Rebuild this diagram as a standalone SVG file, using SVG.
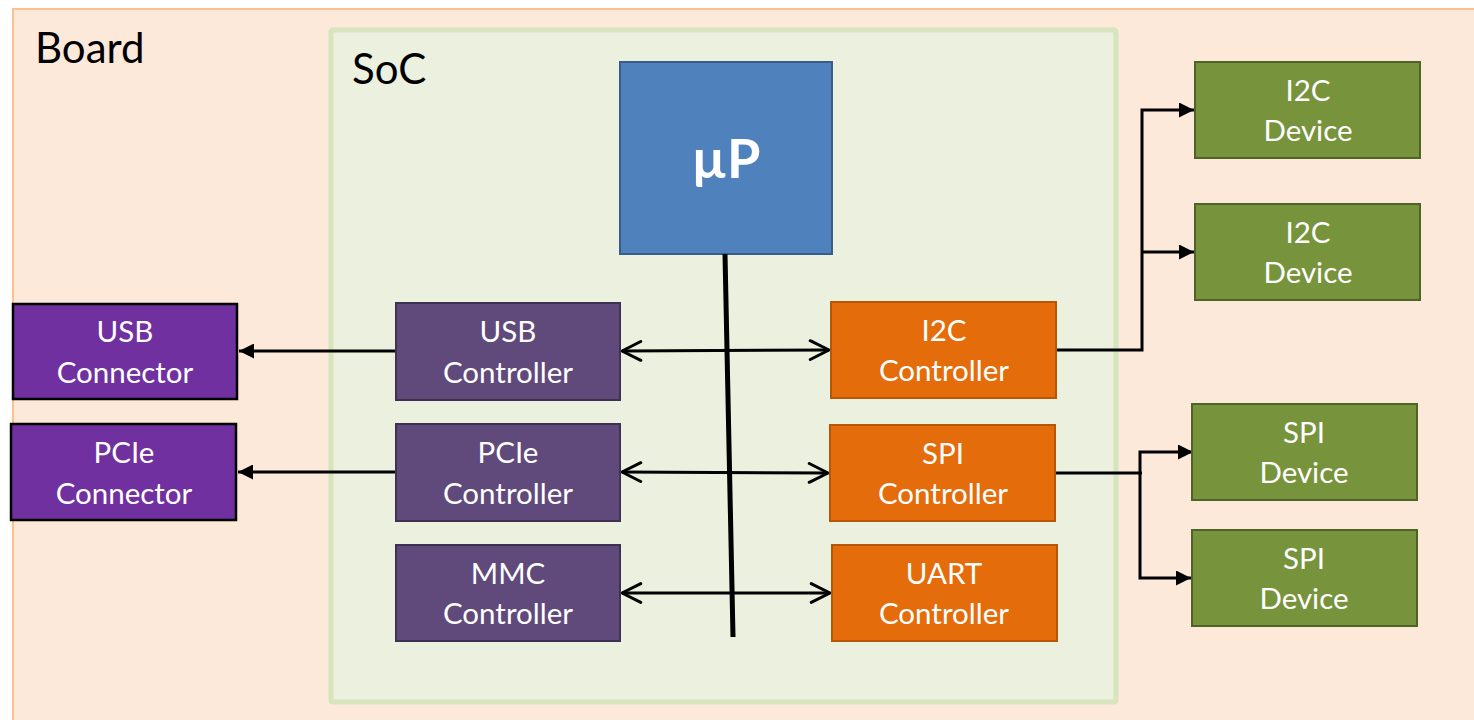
<svg xmlns="http://www.w3.org/2000/svg" width="1474" height="720" viewBox="0 0 1474 720">
  <style>
    text { font-family: Lato, "Open Sans", "Liberation Sans", sans-serif; }
    .lbl { font-size: 29.5px; fill: #ffffff; text-anchor: middle; }
    .title { font-size: 42px; fill: #000000; }
    .ctl-l { fill: #604A7B; stroke: #3F3151; stroke-width: 2; }
    .ctl-r { fill: #E46C0A; stroke: #B65708; stroke-width: 2; }
    .conn { fill: #7030A0; stroke: #000000; stroke-width: 2.5; }
    .dev { fill: #77933C; stroke: #4F6228; stroke-width: 2; }
    .wire { fill: none; stroke: #000000; stroke-width: 3; }
  </style>
  <defs>
    <marker id="solid" viewBox="0 0 10 10" refX="10" refY="5" markerWidth="5" markerHeight="5" markerUnits="strokeWidth" orient="auto-start-reverse">
      <path d="M0,0 L10,5 L0,10 Z" fill="#000000"/>
    </marker>
    <marker id="open" viewBox="0 0 12 12" refX="11" refY="6" markerWidth="7.5" markerHeight="7.5" markerUnits="strokeWidth" orient="auto-start-reverse">
      <path d="M1,1 L11,6 L1,11" fill="none" stroke="#000000" stroke-width="1.6" stroke-linecap="round" stroke-linejoin="round"/>
    </marker>
  </defs>

  <rect width="1474" height="720" fill="#ffffff"/>

  <!-- Board -->
  <g id="board">
    <rect x="13" y="9" width="1470" height="720" fill="#FDE9D9" stroke="#FAC090" stroke-width="2"/>
    <text class="title" x="35" y="63">Board</text>
  </g>

  <!-- SoC -->
  <g id="soc">
    <rect x="331" y="30" width="785" height="672" rx="2" fill="#EBF1DE" stroke="#D7E4BD" stroke-width="5"/>
    <text class="title" x="352" y="84">SoC</text>
  </g>

  <!-- Processor -->
  <g id="up">
    <rect x="620" y="62" width="212" height="192" fill="#4F81BD" stroke="#385D8A" stroke-width="2"/>
    <text x="726" y="178" style="font-size:54px;font-weight:bold;fill:#ffffff;text-anchor:middle">µP</text>
  </g>

  <!-- Connectors -->
  <g id="connectors">
    <line class="wire" x1="725" y1="254" x2="733" y2="637" style="stroke-width:5"/>
    <line class="wire" x1="396" y1="351" x2="239" y2="351" marker-end="url(#solid)"/>
    <line class="wire" x1="396" y1="472" x2="238" y2="472" marker-end="url(#solid)"/>
    <line class="wire" x1="622" y1="351" x2="829" y2="350" marker-start="url(#open)" marker-end="url(#open)"/>
    <line class="wire" x1="622" y1="472" x2="828" y2="473" marker-start="url(#open)" marker-end="url(#open)"/>
    <line class="wire" x1="622" y1="593" x2="830" y2="593" marker-start="url(#open)" marker-end="url(#open)"/>
    <polyline class="wire" points="1056,350 1142,350 1142,110 1194,110" marker-end="url(#solid)"/>
    <polyline class="wire" points="1142,252 1194,252" marker-end="url(#solid)"/>
    <polyline class="wire" points="1055,473 1142,473"/>
    <polyline class="wire" points="1193,452 1140,452 1140,578 1191,578" marker-start="url(#solid)" marker-end="url(#solid)"/>
  </g>

  <!-- Left controllers -->
  <g id="usb-controller">
    <rect class="ctl-l" x="396" y="303" width="224" height="97"/>
    <text class="lbl" x="508" y="342">USB</text>
    <text class="lbl" x="508" y="383">Controller</text>
  </g>
  <g id="pcie-controller">
    <rect class="ctl-l" x="396" y="424" width="224" height="97"/>
    <text class="lbl" x="508" y="463">PCIe</text>
    <text class="lbl" x="508" y="504">Controller</text>
  </g>
  <g id="mmc-controller">
    <rect class="ctl-l" x="396" y="545" width="224" height="96"/>
    <text class="lbl" x="508" y="584">MMC</text>
    <text class="lbl" x="508" y="624">Controller</text>
  </g>

  <!-- Right controllers -->
  <g id="i2c-controller">
    <rect class="ctl-r" x="831" y="302" width="225" height="96"/>
    <text class="lbl" x="944" y="341">I2C</text>
    <text class="lbl" x="944" y="381">Controller</text>
  </g>
  <g id="spi-controller">
    <rect class="ctl-r" x="830" y="425" width="225" height="96"/>
    <text class="lbl" x="943" y="464">SPI</text>
    <text class="lbl" x="943" y="504">Controller</text>
  </g>
  <g id="uart-controller">
    <rect class="ctl-r" x="832" y="545" width="225" height="96"/>
    <text class="lbl" x="944" y="584">UART</text>
    <text class="lbl" x="944" y="624">Controller</text>
  </g>

  <!-- Board connectors -->
  <g id="usb-connector">
    <rect class="conn" x="13" y="304" width="224" height="95"/>
    <text class="lbl" x="125" y="342">USB</text>
    <text class="lbl" x="125" y="383">Connector</text>
  </g>
  <g id="pcie-connector">
    <rect class="conn" x="11" y="424" width="225" height="96"/>
    <text class="lbl" x="124" y="463">PCIe</text>
    <text class="lbl" x="124" y="504">Connector</text>
  </g>

  <!-- Peripheral devices -->
  <g id="i2c-device-1">
    <rect class="dev" x="1195" y="62" width="225" height="96"/>
    <text class="lbl" x="1308" y="101">I2C</text>
    <text class="lbl" x="1308" y="141">Device</text>
  </g>
  <g id="i2c-device-2">
    <rect class="dev" x="1195" y="204" width="225" height="96"/>
    <text class="lbl" x="1308" y="243">I2C</text>
    <text class="lbl" x="1308" y="283">Device</text>
  </g>
  <g id="spi-device-1">
    <rect class="dev" x="1192" y="404" width="225" height="96"/>
    <text class="lbl" x="1304" y="443">SPI</text>
    <text class="lbl" x="1304" y="483">Device</text>
  </g>
  <g id="spi-device-2">
    <rect class="dev" x="1192" y="530" width="225" height="96"/>
    <text class="lbl" x="1304" y="569">SPI</text>
    <text class="lbl" x="1304" y="609">Device</text>
  </g>
</svg>
